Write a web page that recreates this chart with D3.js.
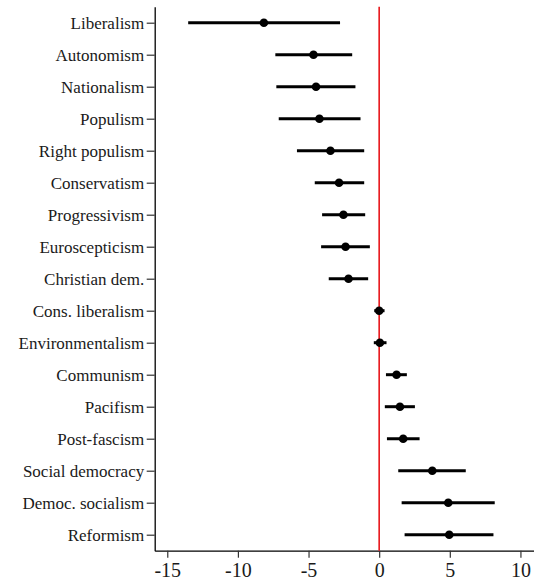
<!DOCTYPE html>
<html>
<head>
<meta charset="utf-8">
<script src="https://cdn.jsdelivr.net/npm/d3@7"></script>
<style>
  html, body { margin: 0; padding: 0; background: #fff; }
  svg { display: block; }
</style>
</head>
<body>
<svg id="chart" width="534" height="583"></svg>
<script>
const categories = ["Liberalism","Autonomism","Nationalism","Populism","Right populism","Conservatism","Progressivism","Euroscepticism","Christian dem.","Cons. liberalism","Environmentalism","Communism","Pacifism","Post-fascism","Social democracy","Democ. socialism","Reformism"];
const estimates = [-8.16,-4.65,-4.47,-4.23,-3.45,-2.84,-2.53,-2.38,-2.17,0.0,0.05,1.23,1.47,1.70,3.76,4.89,4.96];
const lower = [-13.52,-7.35,-7.28,-7.11,-5.82,-4.56,-4.04,-4.11,-3.57,-0.35,-0.38,0.48,0.40,0.55,1.35,1.59,1.80];
const upper = [-2.77,-1.91,-1.68,-1.32,-1.06,-1.06,-0.99,-0.66,-0.78,0.38,0.52,1.96,2.53,2.86,6.13,8.18,8.09];
const xTicks = [-15,-10,-5,0,5,10];
const refValue = 0;

const svg = d3.select("#chart");
const plotLeft = 154.7, plotRight = 534, plotTop = 6.7, plotBottom = 550.7;

const x = d3.scaleLinear().domain([-15.89, 10.96]).range([plotLeft, plotRight]);
const y = d3.scalePoint().domain(categories).range([plotTop, plotBottom]).padding(0.5);

// Y axis
const yAxis = svg.append("g").attr("transform", `translate(${plotLeft},0)`)
  .call(d3.axisLeft(y).tickSize(8).tickPadding(2.5).tickSizeOuter(0));
yAxis.select(".domain").attr("stroke", "#000").attr("stroke-width", 1.3);
yAxis.selectAll(".tick line").attr("stroke", "#333").attr("stroke-width", 1.2);
yAxis.selectAll(".tick text")
  .attr("font-family", "'Liberation Serif', serif")
  .attr("font-size", 17).attr("fill", "#1a1a1a");

// X axis
const xAxis = svg.append("g").attr("transform", `translate(0,${plotBottom})`)
  .call(d3.axisBottom(x).tickValues(xTicks).tickFormat(d => String(d))
        .tickSize(7).tickPadding(5).tickSizeOuter(0));
xAxis.select(".domain").attr("stroke", "#000").attr("stroke-width", 1.3);
xAxis.selectAll(".tick line").attr("stroke", "#333").attr("stroke-width", 1.2);
xAxis.selectAll(".tick text")
  .attr("font-family", "'Liberation Serif', serif")
  .attr("font-size", 20).attr("fill", "#1a1a1a");

// Reference line
svg.append("line")
  .attr("x1", x(refValue)).attr("x2", x(refValue))
  .attr("y1", plotTop).attr("y2", plotBottom)
  .attr("stroke", "#e8161b").attr("stroke-width", 1.6);

// CIs
const rows = categories.map((c, i) => ({c, est: estimates[i], lo: lower[i], hi: upper[i]}));
svg.append("g").selectAll("line").data(rows).join("line")
  .attr("x1", d => x(d.lo)).attr("x2", d => x(d.hi))
  .attr("y1", d => y(d.c)).attr("y2", d => y(d.c))
  .attr("stroke", "#000").attr("stroke-width", 3);

svg.append("g").selectAll("circle").data(rows).join("circle")
  .attr("cx", d => x(d.est)).attr("cy", d => y(d.c))
  .attr("r", 4.3).attr("fill", "#000");
</script>
</body>
</html>
